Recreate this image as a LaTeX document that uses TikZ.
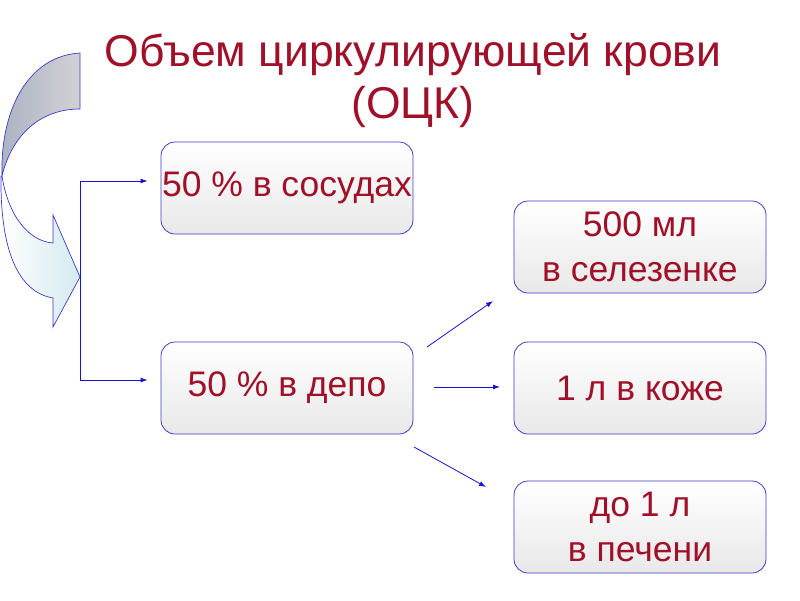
\documentclass[tikz,border=0pt]{standalone}
\usepackage{fontspec}
\setmainfont{Liberation Sans}
\usetikzlibrary{arrows.meta,shadings}
\definecolor{tred}{RGB}{160,16,40}
\definecolor{bord}{RGB}{60,60,200}
\definecolor{arrc}{RGB}{20,20,210}
\definecolor{upl}{RGB}{172,178,194}
\definecolor{upr}{RGB}{210,210,212}
\definecolor{lwr}{RGB}{212,234,240}
\begin{document}
\begin{tikzpicture}[x=1pt,y=-1pt,
  box/.style={draw=bord,line width=0.8pt,rounded corners=14pt,top color=white,bottom color=black!9,
    minimum width=252pt,minimum height=92pt,text=tred,align=center,inner sep=0pt,
    font=\fontsize{35.5}{45}\selectfont},
  arr/.style={arrc,line width=0.8pt,-{Latex[length=7pt,width=5pt]}},
  ttl/.style={text=tred,font=\fontsize{44.5}{52}\selectfont,align=center}]
\useasboundingbox (0,0) rectangle (800,600);
% curved arrow
\path[draw=bord,line width=0.7pt,left color=upl,right color=upr]
  (80,53) .. controls (28,56) and (0,110) .. (2,176)
  .. controls (12,135) and (40,109) .. (80,109) -- cycle;
\path[draw=bord,line width=0.7pt,left color=white,right color=lwr]
  (2,176) .. controls (8,215) and (28,241) .. (53,243) -- (53,215) -- (80,277) -- (53,327) -- (53,298)
  .. controls (18,292) and (0,250) .. (1,176) -- cycle;
% title
\node[ttl] (title) at (413,81) {Объем циркулирующей крови\\(ОЦК)};
% boxes
\node[box] (b1) at (287,188) {50 \% в сосудах};
\node[box] (b2) at (287,388) {50 \% в депо};
\node[box] (b3) at (640,247) {500 мл\\в селезенке};
\node[box] (b4) at (640,388) {1 л в коже};
\node[box] (b5) at (640,527) {до 1 л\\в печени};
% connectors
\coordinate (top) at (80,181);
\coordinate (bot) at (80,380);
\draw[arrc,line width=0.8pt] (top) -- (bot);
\draw[arr] (top) -- ([xshift=-13pt]b1.west |- top);
\draw[arr] (bot) -- ([xshift=-13pt]b2.west |- bot);
\coordinate (s1) at (427,347);
\coordinate (e1) at (493,301);
\coordinate (s2) at (434,387);
\coordinate (e2) at (500,387);
\coordinate (s3) at (414,447);
\coordinate (e3) at (486,487);
\draw[arr] (s1) -- (e1);
\draw[arr] (s2) -- (e2);
\draw[arr] (s3) -- (e3);
\end{tikzpicture}
\end{document}
